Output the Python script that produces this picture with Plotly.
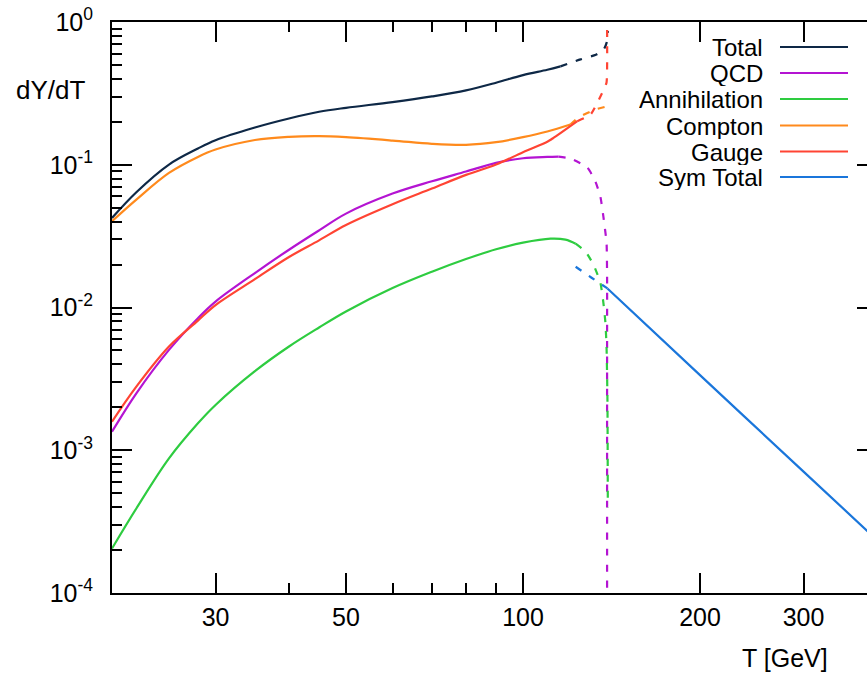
import math
import plotly.graph_objects as go

# ---------------- data ----------------
T_total = [20, 22, 25, 28, 30, 35, 40, 45, 50, 60, 70, 80, 90, 100, 110, 115.8]
Y_total = [0.0424, 0.0642, 0.1003, 0.1299, 0.1487, 0.1824, 0.2110, 0.2350, 0.2506,
           0.2747, 0.3010, 0.3317, 0.3754, 0.4249, 0.4631, 0.4888]
T_total_d = [115.8, 125.3, 133.0, 137.2, 138.8, 139.4]
Y_total_d = [0.4888, 0.547, 0.589, 0.643, 0.72, 0.865]

T_qcd = [20, 22, 25, 28, 30, 35, 40, 45, 50, 60, 70, 80, 90, 100, 110, 114.9]
Y_qcd = [1.349e-3, 2.506e-3, 5.05e-3, 8.42e-3, 0.0110, 0.01743, 0.0254, 0.0347, 0.04546,
         0.0628, 0.0766, 0.0896, 0.1030, 0.1111, 0.1135, 0.1141]
T_qcd_d = [114.9, 120.4, 128.7, 132.8, 135.4, 137.0, 138.7, 139.0, 139.0, 139.0]
Y_qcd_d = [0.1141, 0.1105, 0.0955, 0.0762, 0.0598, 0.0433, 0.0284, 0.01642, 5.05e-3, 1e-4]

T_ann = [20, 22, 25, 28, 30, 35, 40, 45, 50, 60, 70, 80, 90, 100, 111.4, 118.1, 122.9]
Y_ann = [2.048e-4, 3.91e-4, 8.77e-4, 1.544e-3, 2.077e-3, 3.58e-3, 5.33e-3, 7.24e-3, 9.38e-3,
         0.01367, 0.0178, 0.02185, 0.0256, 0.02844, 0.03034, 0.02987, 0.0280]
T_ann_d = [122.9, 127.8, 131.8, 135.4, 137.0, 138.1, 138.7, 139.2, 139.4]
Y_ann_d = [0.0280, 0.0246, 0.01994, 0.01491, 0.01079, 7.81e-3, 5.30e-3, 2.25e-3, 3.99e-4]

T_comp = [20, 22, 25, 28, 30, 35, 40, 45, 50, 60, 70, 80, 90, 100, 110, 120.4]
Y_comp = [0.0402, 0.0570, 0.0877, 0.1135, 0.1278, 0.1490, 0.1569, 0.1586, 0.1560,
          0.1478, 0.1401, 0.1378, 0.1439, 0.1560, 0.1710, 0.1915]
T_comp_d = [120.4, 124.3, 132.8, 139.6]
Y_comp_d = [0.1915, 0.2144, 0.244, 0.2573]

T_gauge = [20, 22, 25, 28, 30, 35, 40, 45, 50, 60, 70, 80, 90, 100, 110, 112.3, 123.7]
Y_gauge = [1.586e-3, 2.79e-3, 5.33e-3, 8.1e-3, 0.0104, 0.0158, 0.02257, 0.02954, 0.03785,
           0.0529, 0.0681, 0.0849, 0.1003, 0.1225, 0.145, 0.1527, 0.202]
T_gauge_d = [123.7, 130.3, 137.2, 138.7, 139.0, 139.05]
Y_gauge_d = [0.202, 0.225, 0.337, 0.377, 1.0, 1.5]

T_sym_d = [122.9, 130.8, 139.2]
Y_sym_d = [0.0193, 0.01616, 0.0136]
T_sym = [139.2, 200, 300, 400]
Y_sym = [0.0136, 3.36e-3, 7.09e-4, 2.35e-4]

names = ["Total", "QCD", "Annihilation", "Compton", "Gauge", "Sym Total"]
colors = ["#0e2846", "#b414d2", "#2ecc40", "#ff8a1c", "#ff4433", "#1a76db"]

x_ticks = [30, 50, 100, 200, 300]
x_minor = [40, 60, 70, 80, 90]
y_ticks = [1e-4, 1e-3, 1e-2, 1e-1, 1]
y_ticktext = ["10<sup>-4</sup>", "10<sup>-3</sup>", "10<sup>-2</sup>", "10<sup>-1</sup>", "10<sup>0</sup>"]
y_minor = [m * 10.0 ** e for e in range(-4, 0) for m in range(2, 10)]

solid = [(T_total, Y_total), (T_qcd, Y_qcd), (T_ann, Y_ann), (T_comp, Y_comp),
         (T_gauge, Y_gauge), (T_sym, Y_sym)]
dashed = [(T_total_d, Y_total_d), (T_qcd_d, Y_qcd_d), (T_ann_d, Y_ann_d),
          (T_comp_d, Y_comp_d), (T_gauge_d, Y_gauge_d), (T_sym_d, Y_sym_d)]

FONT = "Liberation Sans, Arial, Helvetica, sans-serif"
W, H = 867, 674
L, R, TOP, BOT = 112, 867, 22, 593

fig = go.Figure()
for i in range(len(names)):
    xs, ys = solid[i]
    fig.add_trace(go.Scatter(x=xs, y=ys, mode="lines", name=names[i],
                             line=dict(color=colors[i], width=2.2, shape="spline", smoothing=1.0),
                             showlegend=False))
    xd, yd = dashed[i]
    fig.add_trace(go.Scatter(x=xd, y=yd, mode="lines", name=names[i] + " (broken)",
                             line=dict(color=colors[i], width=2.2, dash="7px,9px",
                                       shape="spline", smoothing=0.5),
                             showlegend=False))

# invisible trace to carry the right-hand tick axis
fig.add_trace(go.Scatter(x=[30], y=[1e-2], yaxis="y2", mode="markers",
                         marker=dict(opacity=0), showlegend=False, hoverinfo="skip"))

xmin = math.log10(20.0)
xmax = xmin + (R - L) / 588.0

fig.update_layout(
    width=W, height=H,
    margin=dict(l=L, r=W - R, t=TOP, b=H - BOT),
    plot_bgcolor="white", paper_bgcolor="white",
    font=dict(family=FONT, size=25, color="black"),
    showlegend=False,
    xaxis=dict(type="log", range=[xmin, xmax], tickmode="array", tickvals=x_ticks,
               ticktext=[str(v) for v in x_ticks], ticks="inside", ticklen=20, tickwidth=2,
               tickcolor="black", showline=True, linewidth=2, linecolor="black",
               mirror="ticks", showgrid=False, zeroline=False, ticklabelstandoff=1,
               tickfont=dict(family=FONT, size=25),
               minor=dict(tickmode="array", tickvals=x_minor, ticks="inside", ticklen=10,
                          tickwidth=2, tickcolor="black", showgrid=False)),
    yaxis=dict(type="log", range=[-4, 0], tickmode="array", tickvals=y_ticks,
               ticktext=y_ticktext, ticks="inside", ticklen=20, tickwidth=2,
               tickcolor="black", showline=True, linewidth=2, linecolor="black",
               mirror=False, showgrid=False, zeroline=False, ticklabelstandoff=12,
               tickfont=dict(family=FONT, size=25),
               minor=dict(tickmode="array", tickvals=y_minor, ticks="inside", ticklen=10,
                          tickwidth=2, tickcolor="black", showgrid=False)),
    yaxis2=dict(type="log", range=[-4, 0], overlaying="y", side="right",
                tickmode="array", tickvals=y_ticks, ticks="inside", ticklen=10, tickwidth=2,
                tickcolor="black", showticklabels=False, showline=False, showgrid=False,
                zeroline=False),
)


def px_x(p):
    return (p - L) / (R - L)


def px_y(p):
    return (BOT - p) / (BOT - TOP)


# legend (text on the left, line sample on the right)
leg_y = [47, 73, 99, 125.5, 151.5, 177]
for i, nm in enumerate(names):
    fig.add_annotation(x=px_x(764), y=px_y(leg_y[i]), xref="paper", yref="paper",
                       text=nm, showarrow=False, xanchor="right", yanchor="middle",
                       height=26, borderpad=0,
                       font=dict(family=FONT, size=24, color="black"))
    fig.add_shape(type="line", xref="paper", yref="paper",
                  x0=px_x(780), x1=px_x(848), y0=px_y(leg_y[i]), y1=px_y(leg_y[i]),
                  line=dict(color=colors[i], width=2.2))

fig.add_annotation(x=px_x(14), y=px_y(90), xref="paper", yref="paper", text="dY/dT",
                   showarrow=False, xanchor="left", yanchor="middle",
                   font=dict(family=FONT, size=26, color="black"))
fig.add_annotation(x=px_x(830), y=px_y(658), xref="paper", yref="paper", text="T [GeV]",
                   showarrow=False, xanchor="right", yanchor="middle",
                   font=dict(family=FONT, size=25, color="black"))

fig.write_html("out.html", config={"displayModeBar": False})
